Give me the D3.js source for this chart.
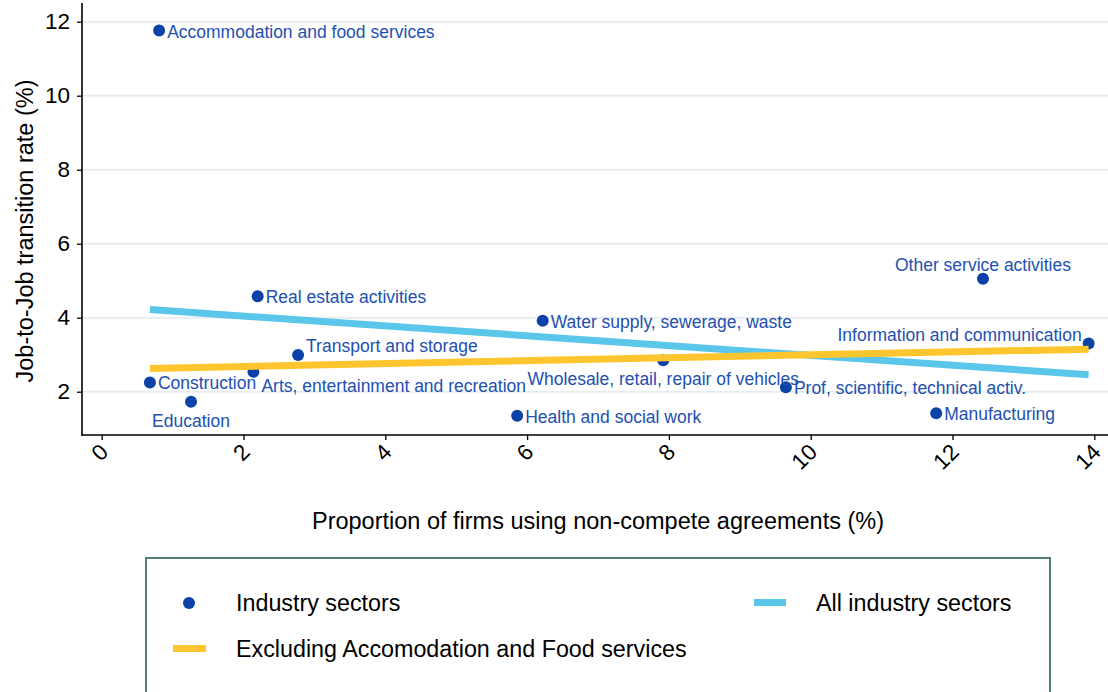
<!DOCTYPE html>
<html>
<head>
<meta charset="utf-8">
<script src="https://cdn.jsdelivr.net/npm/d3@7"></script>
<style>
  html, body { margin: 0; padding: 0; background: #fff; }
  svg { display: block; font-family: "Liberation Sans", Arial, sans-serif; }
</style>
</head>
<body>
<svg id="chart" width="1108" height="692"></svg>
<script>
// ---- Data ----
const sectors = [
  "Accommodation and food services",
  "Real estate activities",
  "Transport and storage",
  "Arts, entertainment and recreation",
  "Construction",
  "Education",
  "Health and social work",
  "Water supply, sewerage, waste",
  "Wholesale, retail, repair of vehicles",
  "Prof, scientific, technical activ.",
  "Manufacturing",
  "Other service activities",
  "Information and communication"
];
const ncaShare = [0.81, 2.20, 2.77, 2.14, 0.68, 1.26, 5.86, 6.22, 7.92, 9.65, 11.77, 12.43, 13.92];
const j2jRate  = [11.76, 4.58, 2.99, 2.54, 2.25, 1.73, 1.35, 3.92, 2.85, 2.12, 1.42, 5.05, 3.30];

const fitX    = [0.68, 13.92];
const fitAll  = [4.22, 2.46];   // All industry sectors
const fitExcl = [2.63, 3.15];   // Excluding Accommodation and Food services

const xTicks = [0, 2, 4, 6, 8, 10, 12, 14];
const yTicks = [2, 4, 6, 8, 10, 12];

const xTitle = "Proportion of firms using non-compete agreements (%)";
const yTitle = "Job-to-Job transition rate (%)";
const legendLabels = ["Industry sectors", "All industry sectors", "Excluding Accomodation and Food services"];

// ---- Label placement (style) ----
const labelPlace = {
  "Education": "b",
  "Wholesale, retail, repair of vehicles": "b",
  "Other service activities": "t",
  "Information and communication": "tl",
  "Arts, entertainment and recreation": "br",
  "Transport and storage": "tr"
};

// ---- Layout ----
const svg = d3.select("#chart");
const C = {
  dot: "#0a42a8", label: "#2250b0", blue: "#59c6ea", yellow: "#ffc52e",
  grid: "#e5edf1", frame: "#4f7f77"
};
const axisLeft = 82, axisBottom = 435, plotRight = 1108, plotTop = 3;

const x = d3.scaleLinear().domain([0, 14]).range([101.7, 1094.3]);
const y = d3.scaleLinear().domain([2, 12]).range([391.7, 21.7]);

// gridlines
svg.append("g").selectAll("line").data(yTicks).join("line")
  .attr("x1", axisLeft).attr("x2", plotRight)
  .attr("y1", d => y(d)).attr("y2", d => y(d))
  .attr("stroke", C.grid).attr("stroke-width", 2);

// axes
const yAxis = d3.axisLeft(y).tickValues(yTicks).tickSize(5).tickPadding(7).tickFormat(d3.format("d"));
const gy = svg.append("g").attr("transform", `translate(${axisLeft},0)`).call(yAxis);
gy.select(".domain").remove();
gy.selectAll("text").attr("font-size", 22.5).attr("fill", "#000").attr("font-family", "Liberation Sans, Arial, sans-serif");
gy.selectAll("line").attr("stroke", "#000").attr("stroke-width", 1.3);

const xAxis = d3.axisBottom(x).tickValues(xTicks).tickSize(5).tickFormat(d3.format("d"));
const gx = svg.append("g").attr("transform", `translate(0,${axisBottom})`).call(xAxis);
gx.select(".domain").remove();
gx.selectAll("line").attr("stroke", "#000").attr("stroke-width", 1.3);
gx.selectAll("text")
  .attr("font-size", 22.5).attr("fill", "#000").attr("font-family", "Liberation Sans, Arial, sans-serif")
  .attr("text-anchor", "end").attr("dominant-baseline", "central")
  .attr("y", 0).attr("dy", null)
  .attr("transform", "translate(2,13) rotate(-45)");

svg.append("line").attr("x1", axisLeft).attr("x2", axisLeft).attr("y1", plotTop).attr("y2", axisBottom + 0.7)
  .attr("stroke", "#000").attr("stroke-width", 1.6);
svg.append("line").attr("x1", axisLeft - 0.7).attr("x2", plotRight).attr("y1", axisBottom).attr("y2", axisBottom)
  .attr("stroke", "#000").attr("stroke-width", 1.6);

// axis titles
svg.append("text").attr("x", 598).attr("y", 521).attr("text-anchor", "middle")
  .attr("dominant-baseline", "central").attr("font-size", 23.5).attr("fill", "#000").text(xTitle);
svg.append("text").attr("transform", "translate(25,231) rotate(-90)").attr("text-anchor", "middle")
  .attr("dominant-baseline", "central").attr("font-size", 23.5).attr("fill", "#000").text(yTitle);

// scatter points
const pts = sectors.map((s, i) => ({ name: s, x: ncaShare[i], y: j2jRate[i] }));
svg.append("g").selectAll("circle").data(pts).join("circle")
  .attr("cx", d => x(d.x)).attr("cy", d => y(d.y)).attr("r", 6).attr("fill", C.dot);

// labels
const off = {
  r:  { dx: 8,  dy: 1,   anchor: "start" },
  b:  { dx: 0,  dy: 19,  anchor: "middle" },
  t:  { dx: 0,  dy: -14, anchor: "middle" },
  tl: { dx: -7, dy: -9,  anchor: "end" },
  br: { dx: 8,  dy: 14,  anchor: "start" },
  tr: { dx: 8,  dy: -9,  anchor: "start" }
};
svg.append("g").selectAll("text").data(pts).join("text")
  .each(function(d) {
    const o = off[labelPlace[d.name] || "r"];
    d3.select(this).attr("x", x(d.x) + o.dx).attr("y", y(d.y) + o.dy).attr("text-anchor", o.anchor);
  })
  .attr("dominant-baseline", "central").attr("font-size", 17.5).attr("fill", C.label)
  .text(d => d.name);

// fit lines
const line = d3.line().x(d => x(d[0])).y(d => y(d[1]));
svg.append("path").datum(fitX.map((v, i) => [v, fitAll[i]])).attr("d", line)
  .attr("fill", "none").attr("stroke", C.blue).attr("stroke-width", 7);
svg.append("path").datum(fitX.map((v, i) => [v, fitExcl[i]])).attr("d", line)
  .attr("fill", "none").attr("stroke", C.yellow).attr("stroke-width", 7);

// legend
const lg = svg.append("g");
lg.append("rect").attr("x", 146).attr("y", 558).attr("width", 904).attr("height", 160)
  .attr("fill", "#fff").attr("stroke", C.frame).attr("stroke-width", 2);
lg.append("circle").attr("cx", 189).attr("cy", 603).attr("r", 6).attr("fill", C.dot);
lg.append("line").attr("x1", 754).attr("x2", 786).attr("y1", 602.5).attr("y2", 602.5)
  .attr("stroke", C.blue).attr("stroke-width", 7);
lg.append("line").attr("x1", 173).attr("x2", 206).attr("y1", 648.5).attr("y2", 648.5)
  .attr("stroke", C.yellow).attr("stroke-width", 7);
const legPos = [[236, 603], [816, 603], [236, 649]];
lg.selectAll("text").data(legendLabels).join("text")
  .attr("x", (d, i) => legPos[i][0]).attr("y", (d, i) => legPos[i][1])
  .attr("dominant-baseline", "central").attr("font-size", 23.3).attr("fill", "#000")
  .text(d => d);
</script>
</body>
</html>
